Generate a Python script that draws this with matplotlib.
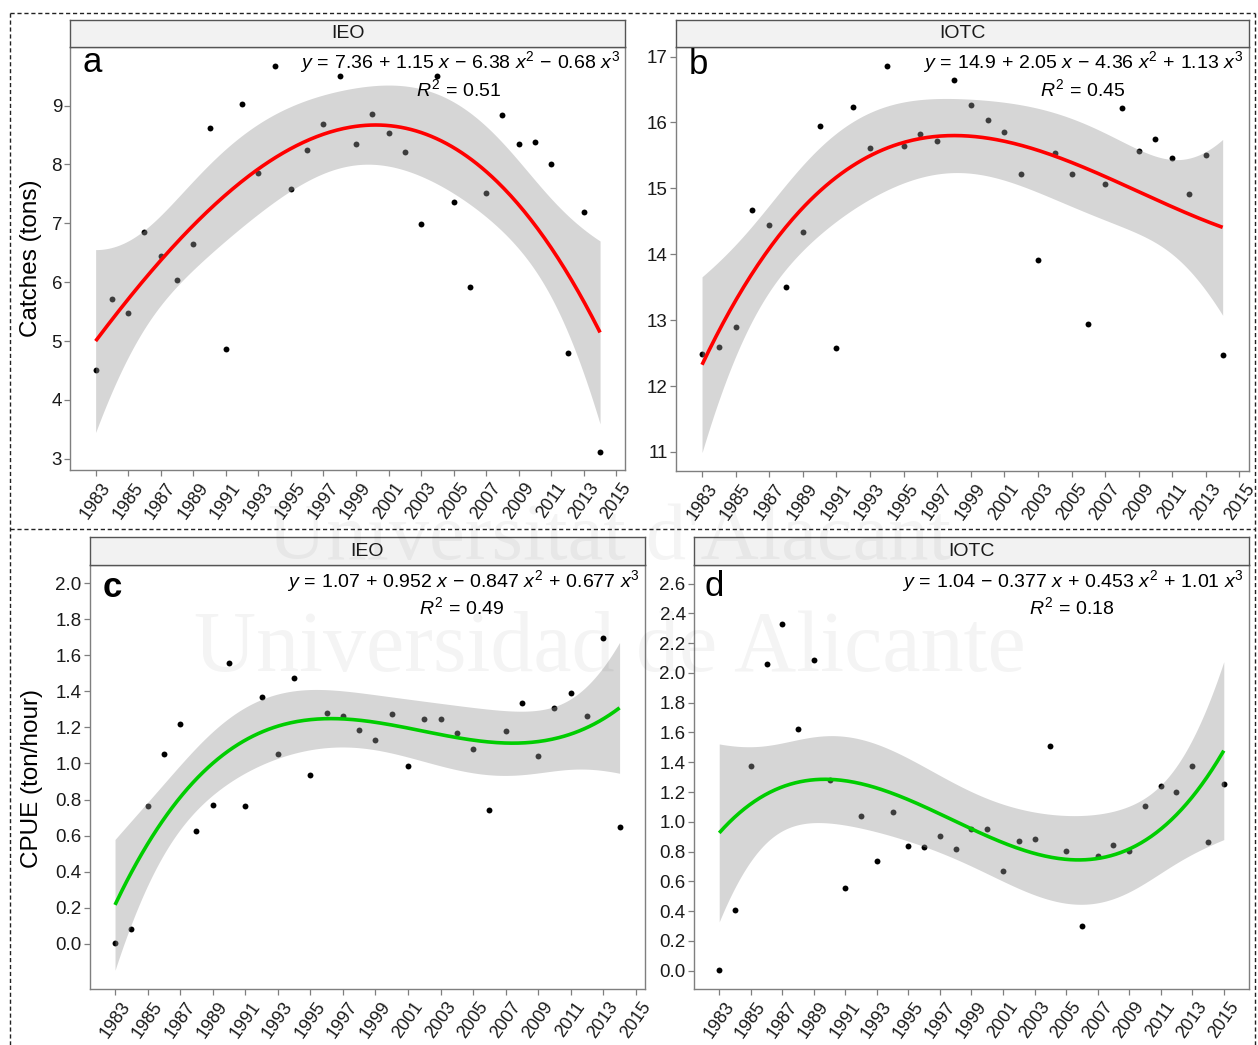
import numpy as np
import matplotlib
matplotlib.use("Agg")
import matplotlib.pyplot as plt
from matplotlib.lines import Line2D

plt.rcParams['font.family'] = ['Liberation Sans', 'DejaVu Sans']
plt.rcParams['mathtext.fontset'] = 'custom'
plt.rcParams['mathtext.rm'] = 'Liberation Sans'
plt.rcParams['mathtext.it'] = 'Liberation Sans:italic'

# ---------------- data ----------------
years_abc = list(range(1983, 2015))
years_d = list(range(1983, 2016))

catch_ieo = [4.51, 5.71, 5.47, 6.85, 6.44, 6.03, 6.65, 8.62, 4.87, 9.03,
             7.86, 9.67, 7.59, 8.24, 8.69, 9.51, 8.35, 8.86, 8.54, 8.21,
             6.99, 9.51, 7.37, 5.92, 7.51, 8.84, 8.35, 8.38, 8.01, 4.79,
             7.19, 3.11]
catch_iotc = [12.49, 12.59, 12.90, 14.67, 14.45, 13.51, 14.34, 15.95, 12.58, 16.24,
              15.62, 16.85, 15.65, 15.82, 15.72, 16.64, 16.26, 16.03, 15.85, 15.22,
              13.91, 15.53, 15.22, 12.94, 15.06, 16.22, 15.57, 15.75, 15.46, 14.92,
              15.50, 12.47]
cpue_ieo = [0.004, 0.083, 0.766, 1.053, 1.216, 0.627, 0.771, 1.557, 0.766, 1.368,
            1.055, 1.475, 0.936, 1.279, 1.262, 1.188, 1.129, 1.273, 0.984, 1.246,
            1.247, 1.170, 1.081, 0.743, 1.179, 1.336, 1.040, 1.309, 1.392, 1.264,
            1.694, 0.649]
cpue_iotc = [0.004, 0.406, 1.374, 2.063, 2.328, 1.621, 2.088, 1.279, 0.557, 1.037,
             0.738, 1.064, 0.839, 0.828, 0.902, 0.817, 0.949, 0.952, 0.667, 0.873,
             0.882, 1.508, 0.806, 0.301, 0.772, 0.842, 0.801, 1.107, 1.239, 1.203,
             1.374, 0.864, 1.255]

strip_labels = ["IEO", "IOTC", "IEO", "IOTC"]
panel_letters = ["a", "b", "c", "d"]
eq_labels = [r"$y\,=\,7.36\,+\,1.15\ x\,-\,6.38\ x^2\,-\,0.68\ x^3$",
             r"$y\,=\,14.9\,+\,2.05\ x\,-\,4.36\ x^2\,+\,1.13\ x^3$",
             r"$y\,=\,1.07\,+\,0.952\ x\,-\,0.847\ x^2\,+\,0.677\ x^3$",
             r"$y\,=\,1.04\,-\,0.377\ x\,+\,0.453\ x^2\,+\,1.01\ x^3$"]
r2_labels = [r"$R^2\,=\,0.51$", r"$R^2\,=\,0.45$", r"$R^2\,=\,0.49$", r"$R^2\,=\,0.18$"]
ylabels = ["Catches (tons)", "CPUE (ton/hour)"]
x_ticks = list(range(1983, 2016, 2))

# t quantiles (0.975) for residual degrees of freedom
T975 = {28: 2.048, 29: 2.045}

W, H = 1258, 1045
fig = plt.figure(figsize=(W / 100, H / 100), dpi=100)


def fbox(l, t, r, b):
    return [l / W, 1 - b / H, (r - l) / W, (b - t) / H]


def fit_poly3(years, vals, n=300):
    yrs = np.asarray(years, float)
    v = np.asarray(vals, float)
    mu, sd = yrs.mean(), yrs.std()
    x = (yrs - mu) / sd
    X = np.vander(x, 4, increasing=True)
    beta, *_ = np.linalg.lstsq(X, v, rcond=None)
    resid = v - X @ beta
    dof = len(v) - 4
    s2 = resid @ resid / dof
    cov = s2 * np.linalg.inv(X.T @ X)
    xg = np.linspace(yrs.min(), yrs.max(), n)
    Xg = np.vander((xg - mu) / sd, 4, increasing=True)
    yg = Xg @ beta
    se = np.sqrt(np.einsum('ij,jk,ik->i', Xg, cov, Xg))
    t = T975.get(dof, 2.05)
    return xg, yg, yg - t * se, yg + t * se


panels = [
    dict(years=years_abc, vals=catch_ieo, color='#FF0000',
         box=(70.4, 46.7, 625.3, 470), strip=(70.4, 19.5, 625.3, 46.7),
         ylim=(2.81, 10.0), yticks=np.arange(3, 10, 1), fmt='{:.0f}',
         xlim=(1981.45, 2015.55), bold=False,
         letter=(83, 71.7), eq=(620.5, 68.3), r2=(458.5, 95.7)),
    dict(years=years_abc, vals=catch_iotc, color='#FF0000',
         box=(676, 46.7, 1248.7, 471), strip=(676, 19.5, 1248.7, 46.7),
         ylim=(10.71, 17.15), yticks=np.arange(11, 18, 1), fmt='{:.0f}',
         xlim=(1981.45, 2015.55), bold=False,
         letter=(689, 74.3), eq=(1243.5, 68.3), r2=(1082.6, 95.7)),
    dict(years=years_abc, vals=cpue_ieo, color='#00CD00',
         box=(89.8, 565, 644.8, 989), strip=(89.8, 537, 644.8, 565),
         ylim=(-0.25, 2.10), yticks=np.arange(0, 2.01, 0.2), fmt='{:.1f}',
         xlim=(1981.45, 2015.55), bold=True,
         letter=(103, 596.7), eq=(639.8, 586.7), r2=(461.8, 614)),
    dict(years=years_d, vals=cpue_iotc, color='#00CD00',
         box=(694, 565, 1249, 989), strip=(694, 537, 1249, 565),
         ylim=(-0.123, 2.725), yticks=np.arange(0, 2.61, 0.2), fmt='{:.1f}',
         xlim=(1981.4, 2016.6), bold=False,
         letter=(705, 596), eq=(1243.9, 586.7), r2=(1072, 614)),
]

edge = '#7F7F7F'
for i, p in enumerate(panels):
    ax = fig.add_axes(fbox(*p['box']))
    ax.scatter(p['years'], p['vals'], s=18, color='black', zorder=2, linewidths=0)
    xg, yg, lo, hi = fit_poly3(p['years'], p['vals'])
    ax.fill_between(xg, lo, hi, color='#999999', alpha=0.4, linewidth=0, zorder=3)
    ax.plot(xg, yg, color=p['color'], lw=2.6, zorder=4, solid_capstyle='butt')
    ax.set_xlim(*p['xlim'])
    ax.set_ylim(*p['ylim'])
    ax.set_yticks(p['yticks'])
    ax.set_yticklabels([p['fmt'].format(v) for v in p['yticks']])
    ax.set_xticks(x_ticks)
    ax.set_xticklabels([str(v) for v in x_ticks], rotation=55, ha='center', va='top',
                       rotation_mode='default')
    for s in ax.spines.values():
        s.set_color(edge)
        s.set_linewidth(1.0)
    ax.tick_params(axis='both', colors=edge, length=4, width=0.9,
                   labelcolor='#1A1A1A', direction='out')
    ax.tick_params(axis='y', pad=2, labelsize=13.5)
    ax.tick_params(axis='x', pad=3, labelsize=13)
    ax.set_facecolor('white')

    # strip
    sax = fig.add_axes(fbox(*p['strip']))
    sax.set_facecolor('#F2F2F2')
    sax.set_xticks([])
    sax.set_yticks([])
    for s in sax.spines.values():
        s.set_color('#555555')
        s.set_linewidth(1.0)
    sax.text(0.5, 0.5, strip_labels[i], ha='center', va='center', fontsize=14,
             color='#1A1A1A', transform=sax.transAxes)

    # annotations
    lx, ly = p['letter']
    fig.text(lx / W, 1 - ly / H, panel_letters[i], fontsize=25, ha='left',
             va='baseline', color='black', zorder=10,
             fontweight='bold' if p['bold'] else 'normal')
    ex, ey = p['eq']
    fig.text(ex / W, 1 - ey / H, eq_labels[i], fontsize=14, ha='right',
             va='baseline', color='black', zorder=10)
    rx, ry = p['r2']
    fig.text(rx / W, 1 - ry / H, r2_labels[i], fontsize=14, ha='center',
             va='baseline', color='black', zorder=10)

fig.text(31 / W, 1 - 258 / H, ylabels[0], rotation=90, ha='center', va='center',
         fontsize=17.5, color='black')
fig.text(32 / W, 1 - 779 / H, ylabels[1], rotation=90, ha='center', va='center',
         fontsize=17.5, color='black')

# dashed frame lines
dash = dict(color='#222222', lw=1.0, linestyle=(0, (3, 2)), transform=fig.transFigure)
fig.add_artist(Line2D([10 / W, 1255 / W], [1 - 12.5 / H, 1 - 12.5 / H], **dash))
fig.add_artist(Line2D([10 / W, 10 / W], [0, 1 - 12.5 / H], **dash))
fig.add_artist(Line2D([1255 / W, 1255 / W], [0, 1 - 12.5 / H], **dash))
fig.add_artist(Line2D([10 / W, 1255 / W], [1 - 529 / H, 1 - 529 / H], **dash))

# faint watermark
fig.text(610 / W, 1 - 540 / H, "Universitat d'Alacant", fontsize=58,
         family='Liberation Serif', ha='center', va='center', color='black',
         alpha=0.045, zorder=20)
fig.text(610 / W, 1 - 650 / H, "Universidad de Alicante", fontsize=62,
         family='Liberation Serif', ha='center', va='center', color='black',
         alpha=0.045, zorder=20)

fig.savefig("out.png", dpi=100, facecolor='white')
